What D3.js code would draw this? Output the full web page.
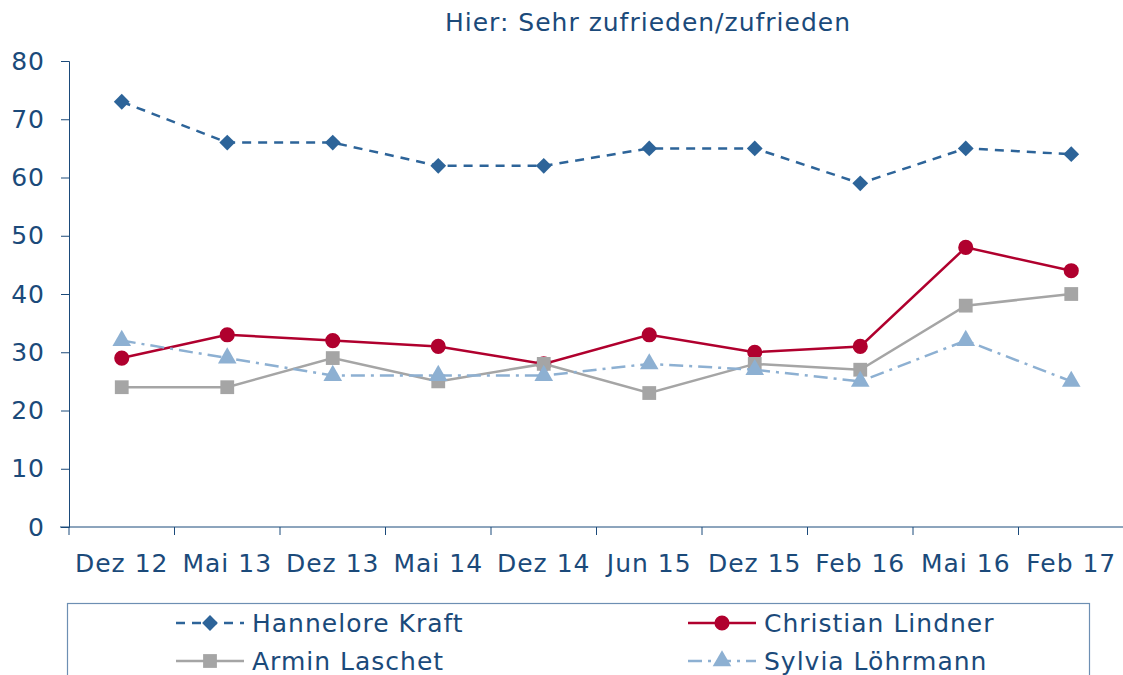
<!DOCTYPE html>
<html>
<head>
<meta charset="utf-8">
<script src="https://cdn.jsdelivr.net/npm/d3@7"></script>
<style>
  body { margin: 0; background: #fff; }
  text { font-family: "DejaVu Sans", Verdana, sans-serif; fill: #1b4a7a; letter-spacing: 1px; }
</style>
</head>
<body>
<svg width="1123" height="675"></svg>
<script>
var categories = ["Dez 12", "Mai 13", "Dez 13", "Mai 14", "Dez 14", "Jun 15", "Dez 15", "Feb 16", "Mai 16", "Feb 17"];
var kraft    = [73, 66, 66, 62, 62, 65, 65, 59, 65, 64];
var lindner  = [29, 33, 32, 31, 28, 33, 30, 31, 48, 44];
var laschet  = [24, 24, 29, 25, 28, 23, 28, 27, 38, 40];
var loehrmann = [32, 29, 26, 26, 26, 28, 27, 25, 32, 25];
var yTicks = [0, 10, 20, 30, 40, 50, 60, 70, 80];

// diamond = square turned by 45 degrees
var series = [
  {name: "Hannelore Kraft", values: kraft, color: "#2d6499", dash: "9,7", symbol: d3.symbolSquare, rot: 45, size: 125},
  {name: "Christian Lindner", values: lindner, color: "#b0002e", dash: null, symbol: d3.symbolCircle, rot: 0, size: 180},
  {name: "Armin Laschet", values: laschet, color: "#a5a5a5", dash: null, symbol: d3.symbolSquare, rot: 0, size: 190},
  {name: "Sylvia Löhrmann", values: loehrmann, color: "#8db0d2", dash: "14,6,3,6", symbol: d3.symbolTriangle, rot: 0, size: 150}
];

var svg = d3.select("svg");
var axisColor = "#1b4a7a";

var x = d3.scaleBand().domain(categories).range([69, 1124]);
var y = d3.scaleLinear().domain([0, 80]).range([527, 61]);

svg.append("text")
   .attr("x", 648).attr("y", 31)
   .attr("text-anchor", "middle")
   .attr("font-size", 25)
   .text("Hier: Sehr zufrieden/zufrieden");

// y axis
var gy = svg.append("g").attr("transform", "translate(69,0)")
  .call(d3.axisLeft(y).tickValues(yTicks).tickSize(8).tickPadding(16));
gy.selectAll("text").attr("font-size", 25).style("fill", axisColor);
gy.selectAll("line, path").attr("stroke", axisColor);

// x axis with ticks on band boundaries
var gx = svg.append("g").attr("transform", "translate(0,527)");
gx.append("line").attr("x1", 60).attr("x2", 1123).attr("stroke", axisColor);
gx.selectAll(".tk").data(categories).enter().append("line")
  .attr("x1", function(d) { return x(d); })
  .attr("x2", function(d) { return x(d); })
  .attr("y1", 0).attr("y2", 8).attr("stroke", axisColor);
gx.selectAll(".lb").data(categories).enter().append("text")
  .attr("x", function(d) { return x(d) + x.bandwidth() / 2; })
  .attr("y", 45)
  .attr("text-anchor", "middle")
  .attr("font-size", 25)
  .text(function(d) { return d; });

var line = d3.line()
  .x(function(d, i) { return x(categories[i]) + x.bandwidth() / 2; })
  .y(function(d) { return y(d); });

series.forEach(function(s) {
  svg.append("path")
     .datum(s.values)
     .attr("fill", "none")
     .attr("stroke", s.color)
     .attr("stroke-width", 2.5)
     .attr("stroke-dasharray", s.dash)
     .attr("d", line);
  svg.selectAll(null).data(s.values).enter().append("path")
     .attr("transform", function(d, i) {
       return "translate(" + (x(categories[i]) + x.bandwidth() / 2) + "," + y(d) + ") rotate(" + s.rot + ")";
     })
     .attr("d", d3.symbol().type(s.symbol).size(s.size))
     .attr("fill", s.color);
});

// legend
var legend = svg.append("g");
legend.append("rect")
  .attr("x", 67.5).attr("y", 603.5).attr("width", 1022).attr("height", 100)
  .attr("fill", "none").attr("stroke", "#6d8fb3").attr("stroke-width", 1.2);

// Kraft, Lindner on the first row; Laschet, Löhrmann on the second
var legPos = [[176, 623], [688, 623], [176, 661], [688, 661]];
series.forEach(function(s, i) {
  var lx = legPos[i][0], ly = legPos[i][1];
  legend.append("line")
    .attr("x1", lx).attr("x2", lx + 68).attr("y1", ly).attr("y2", ly)
    .attr("stroke", s.color).attr("stroke-width", 2.5)
    .attr("stroke-dasharray", s.dash);
  legend.append("path")
    .attr("transform", "translate(" + (lx + 34) + "," + ly + ") rotate(" + s.rot + ")")
    .attr("d", d3.symbol().type(s.symbol).size(s.size))
    .attr("fill", s.color);
  legend.append("text")
    .attr("x", lx + 76).attr("y", ly + 9)
    .attr("font-size", 25)
    .text(s.name);
});
</script>
</body>
</html>
